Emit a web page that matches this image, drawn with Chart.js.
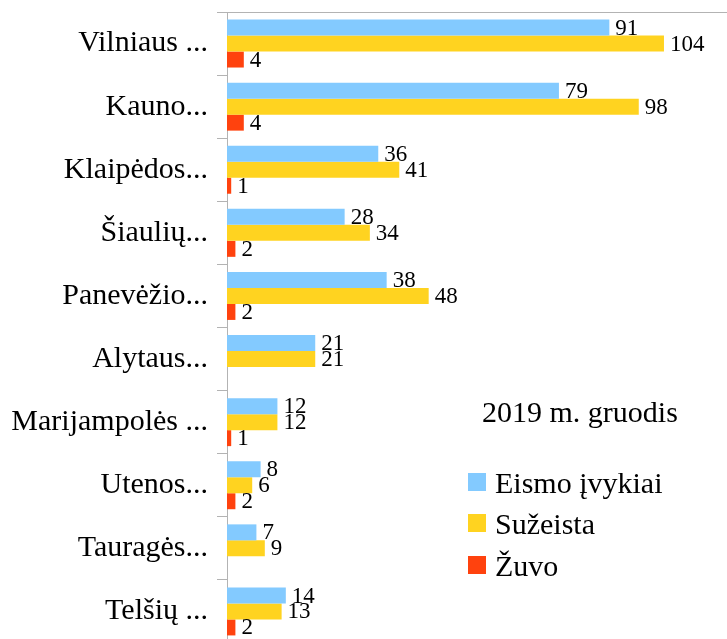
<!DOCTYPE html>
<html>
<head>
<meta charset="utf-8">
<script src="https://cdn.jsdelivr.net/npm/chart.js@4/dist/chart.umd.min.js"></script>
<style>
	html, body { margin:0; padding:0; overflow:hidden; background:#fff; }
	#wrap { position:relative; width:727px; height:643px; }
	#legend { position:absolute; left:0; top:0; font-family:'Liberation Serif','Times New Roman',serif; color:#000; }
	#legend .ttl { position:absolute; left:482px; top:397px; font-size:30px; line-height:30px; white-space:nowrap; }
	#legend .item { position:absolute; left:468px; font-size:30px; line-height:30px; white-space:nowrap; }
	#legend .box { position:absolute; left:0; top:5px; width:18px; height:18px; }
	#legend .txt { position:absolute; left:27px; top:0; }
</style>
</head>
<body>
<div id="wrap">
	<canvas id="chart" width="727" height="643"></canvas>
	<div id="legend"></div>
</div>
<script>
	// data
	var apskritys = ['Vilniaus ...','Kauno...','Klaipėdos...','Šiaulių...','Panevėžio...','Alytaus...','Marijampolės ...','Utenos...','Tauragės...','Telšių ...'];
	var eismoIvykiai = [91, 79, 36, 28, 38, 21, 12, 8, 7, 14];
	var suzeista = [104, 98, 41, 34, 48, 21, 12, 6, 9, 13];
	var zuvo = [4, 4, 1, 2, 2, null, 1, 2, null, 2];
	var seriesNames = ['Eismo įvykiai', 'Sužeista', 'Žuvo'];
	var legendTitle = '2019 m. gruodis';

	var colors = ['#83caff', '#ffd320', '#ff420e'];
	var serif = "'Liberation Serif','Times New Roman',serif";
	var gray = '#b3b3b3';

	var valueLabels = {
		id: 'valueLabels',
		afterDatasetsDraw: function(chart){
			var ctx = chart.ctx;
			ctx.save();
			ctx.font = '23px ' + serif;
			ctx.fillStyle = '#000';
			ctx.textAlign = 'left';
			ctx.textBaseline = 'middle';
			chart.data.datasets.forEach(function(ds, i){
				var meta = chart.getDatasetMeta(i);
				meta.data.forEach(function(bar, j){
					var v = ds.data[j];
					if(v === null || v === undefined) return;
					ctx.fillText(String(v), bar.x + 6, bar.y + 1);
				});
			});
			ctx.restore();
		}
	};

	var datasets = [eismoIvykiai, suzeista, zuvo].map(function(d, i){
		return {
			label: seriesNames[i],
			data: d,
			backgroundColor: colors[i],
			borderWidth: 0,
			barPercentage: 1,
			categoryPercentage: 0.76
		};
	});

	var ctx = document.getElementById('chart').getContext('2d');
	var myChart = new Chart(ctx, {
		type: 'bar',
		data: { labels: apskritys, datasets: datasets },
		plugins: [valueLabels],
		options: {
			indexAxis: 'y',
			responsive: false,
			animation: false,
			layout: { padding: 0 },
			plugins: {
				legend: { display: false },
				title: { display: false },
				tooltip: { enabled: false }
			},
			scales: {
				x: {
					position: 'top',
					min: 0,
					max: 119,
					ticks: { display: false },
					grid: { display: false },
					border: { display: true, color: gray, width: 1 },
					afterFit: function(s){ s.height = 12; }
				},
				y: {
					grid: { display: true, drawOnChartArea: false, drawTicks: true, tickLength: 10, color: gray, offset: true },
					border: { display: true, color: gray, width: 1 },
					ticks: { color: '#000', font: { family: serif, size: 30 }, padding: 9, autoSkip: false },
					afterFit: function(s){
						s.width = 227;
						s.paddingTop = 0;
						s.paddingBottom = 0;
					}
				}
			}
		}
	});

	// legend drawn as html next to the plot
	var html = '<div class="ttl">' + legendTitle + '</div>';
	var tops = [468, 509, 551];
	myChart.data.datasets.forEach(function(ds, i){
		html += '<div class="item" style="top:' + tops[i] + 'px"><span class="box" style="background:' + ds.backgroundColor + '"></span><span class="txt">' + ds.label + '</span></div>';
	});
	document.getElementById('legend').innerHTML = html;
</script>
</body>
</html>
